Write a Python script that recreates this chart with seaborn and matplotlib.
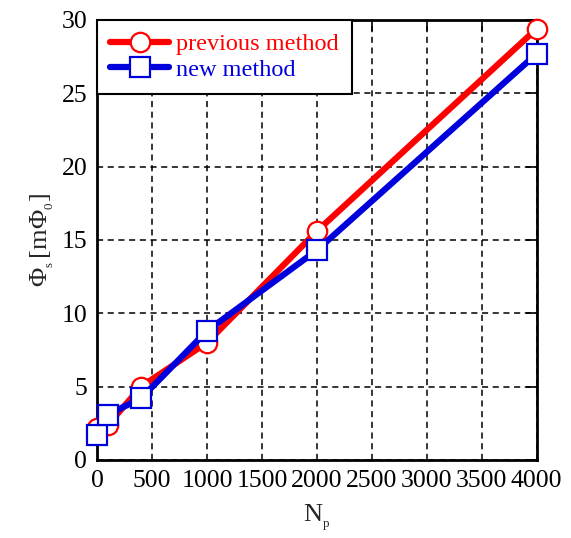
import numpy as np
import pandas as pd
import matplotlib
matplotlib.use('Agg')
import matplotlib.pyplot as plt
import seaborn as sns

# dados
np_prev = [0, 100, 400, 1000, 2000, 4000]
phi_prev = [2.2, 2.4, 5.0, 8.0, 15.6, 29.4]
np_new = [0, 100, 400, 1000, 2000, 4000]
phi_new = [1.7, 3.1, 4.2, 8.8, 14.3, 27.7]
rotulos = ['previous method', 'new method']
cores = ['#ff0000', '#0000dd']
marcadores = ['o', 's']
x_ticks = [0, 500, 1000, 1500, 2000, 2500, 3000, 3500, 4000]
y_ticks = [0, 5, 10, 15, 20, 25, 30]

sns.set_style('white')
plt.rcParams['font.family'] = ['Liberation Serif', 'DejaVu Serif']
plt.rcParams['mathtext.fontset'] = 'custom'
plt.rcParams['mathtext.rm'] = 'Liberation Serif'
plt.rcParams['mathtext.it'] = 'Liberation Serif:italic'

fig = plt.figure(figsize=(5.71, 5.38), dpi=100)
ax = fig.add_axes([0.170, 0.145, 0.770, 0.818])

series = [(np_prev, phi_prev), (np_new, phi_new)]
for (xs, ys), rot, cor, mk in zip(series, rotulos, cores, marcadores):
    df = pd.DataFrame({'Np': xs, 'phi': ys})
    sns.lineplot(data=df, x='Np', y='phi', ax=ax, color=cor, lw=4.5,
                 marker=mk, markersize=14, mfc='white', mec=cor, mew=1.6,
                 label=rot, zorder=3, clip_on=False)

ax.set_xlim(0, 4000)
ax.set_ylim(0, 30)
ax.set_xticks(x_ticks)
ax.set_yticks(y_ticks)
ax.grid(True, color='black', linestyle=(0, (4, 3)), linewidth=1.1)
ax.tick_params(direction='in', length=8, width=1.2, labelsize=18.5,
               top=True, right=True, colors='black', pad=7)
for s in ax.spines.values():
    s.set_color('black')
    s.set_linewidth(2)

ax.set_xlabel(r'$\mathrm{N_{_p}}$', fontsize=19, labelpad=8)
ax.set_ylabel(r'$\mathrm{\Phi_{_s}\,[m\Phi_{_0}]}$', fontsize=19, labelpad=4)

leg = ax.legend(loc='upper left', borderaxespad=0, fancybox=False,
                framealpha=1, edgecolor='black', fontsize=17.5,
                handlelength=2.4, handletextpad=0.3, labelspacing=0.15,
                borderpad=0.55)
leg.get_frame().set_linewidth(1.5)
for txt, cor in zip(leg.get_texts(), cores):
    txt.set_color(cor)
leg.set_zorder(5)

fig.savefig('out.png', dpi=100)
